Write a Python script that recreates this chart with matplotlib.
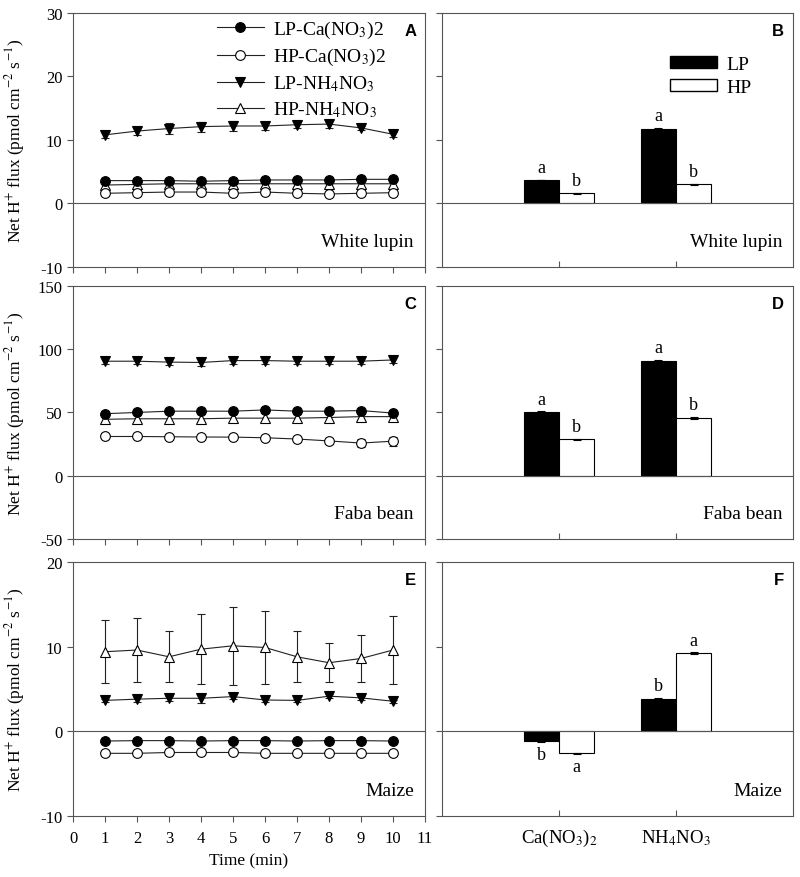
import numpy as np
import matplotlib
matplotlib.use("Agg")
import matplotlib.pyplot as plt
from matplotlib.patches import Patch
from matplotlib.lines import Line2D

plt.rcParams["font.family"] = ["Liberation Serif", "DejaVu Serif"]
plt.rcParams["mathtext.fontset"] = "stix"
plt.rcParams["axes.unicode_minus"] = False

# ---- data ----
time = [1, 2, 3, 4, 5, 6, 7, 8, 9, 10]

# White lupin
wl_lp_ca = [3.6, 3.6, 3.6, 3.5, 3.6, 3.7, 3.7, 3.7, 3.8, 3.8]
wl_hp_ca = [1.6, 1.7, 1.8, 1.8, 1.6, 1.8, 1.6, 1.5, 1.6, 1.7]
wl_lp_nh = [10.8, 11.4, 11.8, 12.1, 12.2, 12.2, 12.4, 12.5, 11.9, 10.9]
wl_hp_nh = [2.9, 3.0, 3.1, 3.1, 3.1, 3.1, 3.1, 3.1, 3.1, 3.1]
wl_lp_nh_err = [0.5, 0.6, 0.9, 0.8, 0.8, 0.7, 0.5, 0.6, 0.3, 0.4]

# Faba bean
fb_lp_ca = [49, 50, 51, 51, 51, 52, 51, 51, 51.5, 49.5]
fb_hp_ca = [31, 31, 30.8, 30.6, 30.5, 30, 29, 27.5, 25.8, 27.3]
fb_lp_nh = [90.5, 90.5, 89.8, 89.5, 91, 91, 90.5, 90.5, 90.5, 91.5]
fb_hp_nh = [44.6, 45, 45, 45, 45.5, 45.5, 45.5, 46, 46.7, 46.7]
fb_hp_ca_err = [1, 1, 1, 1, 1, 1, 1.5, 2.5, 3, 3.5]
fb_lp_nh_err = [2.5, 2.5, 2.5, 2.5, 2.5, 2.5, 2.5, 2.5, 2.5, 2.5]

# Maize
mz_lp_ca = [-1.15, -1.1, -1.1, -1.15, -1.1, -1.1, -1.15, -1.1, -1.1, -1.15]
mz_hp_ca = [-2.6, -2.6, -2.5, -2.5, -2.5, -2.6, -2.6, -2.6, -2.6, -2.6]
mz_lp_nh = [3.65, 3.8, 3.9, 3.9, 4.1, 3.7, 3.65, 4.15, 3.95, 3.55]
mz_hp_nh = [9.4, 9.6, 8.8, 9.7, 10.1, 9.9, 8.8, 8.1, 8.6, 9.6]
mz_lp_nh_err = [0.2, 0.3, 0.3, 0.5, 0.3, 0.2, 0.2, 0.2, 0.2, 0.2]
mz_hp_nh_err = [3.7, 3.8, 3.0, 4.1, 4.6, 4.3, 3.0, 2.3, 2.8, 4.0]

species = ["White lupin", "Faba bean", "Maize"]
ylims = [(-10, 30), (-50, 150), (-10, 20)]
yticks = [[-10, 0, 10, 20, 30], [-50, 0, 50, 100, 150], [-10, 0, 10, 20]]

# bar means (Ca(NO3)2, NH4NO3)
bar_lp = [[3.7, 11.8], [50.5, 91.0], [-1.2, 3.85]]
bar_hp = [[1.6, 3.0], [29.0, 45.5], [-2.6, 9.2]]
bar_lp_err = [[0.05, 0.1], [0.4, 0.4], [0.05, 0.08]]
bar_hp_err = [[0.05, 0.1], [0.4, 0.8], [0.05, 0.12]]
let_lp = [["a", "a"], ["a", "a"], ["b", "b"]]
let_hp = [["b", "b"], ["b", "b"], ["a", "a"]]
bar_cats = ["Ca(NO$_3$)$_2$", "NH$_4$NO$_3$"]

lines = [
    (wl_lp_ca, wl_hp_ca, wl_lp_nh, wl_hp_nh,
     None, None, wl_lp_nh_err, None),
    (fb_lp_ca, fb_hp_ca, fb_lp_nh, fb_hp_nh,
     None, fb_hp_ca_err, fb_lp_nh_err, None),
    (mz_lp_ca, mz_hp_ca, mz_lp_nh, mz_hp_nh,
     None, None, mz_lp_nh_err, mz_hp_nh_err),
]

# ---- figure ----
fig = plt.figure(figsize=(8.0, 8.78), dpi=100, facecolor="white")
rows = [(0.6948, 0.2893), (0.385, 0.2882), (0.0695, 0.2893)]
spine_c = "#555555"
letters = ["A", "B", "C", "D", "E", "F"]
ylab = "Net H$^{+}$ flux (pmol cm$^{-2}$ s$^{-1}$)"

for r in range(3):
    bot, h = rows[r]
    axl = fig.add_axes([0.09125, bot, 0.44, h])
    axr = fig.add_axes([0.5525, bot, 0.43875, h])
    lp_ca, hp_ca, lp_nh, hp_nh, e1, e2, e3, e4 = lines[r]

    style = dict(color="#222222", lw=0.8, capsize=3, elinewidth=0.8,
                 capthick=0.8, ms=7, mec="black", mew=0.8)
    axl.errorbar(time, hp_nh, yerr=e4, fmt="-^", mfc="white", zorder=3, **style)
    axl.errorbar(time, lp_ca, yerr=e1, fmt="-o", mfc="black", zorder=4, **style)
    axl.errorbar(time, hp_ca, yerr=e2, fmt="-o", mfc="white", zorder=3, **style)
    axl.errorbar(time, lp_nh, yerr=e3, fmt="-v", mfc="black", zorder=4, **style)

    span = ylims[r][1] - ylims[r][0]
    axl.set_xlim(0, 11)
    axl.set_ylim(*ylims[r])
    axl.set_yticks(yticks[r])
    axl.set_xticks(range(0, 12))
    axl.axhline(0, color=spine_c, lw=0.8, zorder=1)
    axl.text(10.65, ylims[r][0] + 0.1 * span,
             species[r], ha="right", va="center", fontsize=14)
    axl.text(0.975, 0.96, letters[2 * r], transform=axl.transAxes,
             ha="right", va="top", fontsize=12, fontweight="bold",
             family="Liberation Sans")
    axl.set_ylabel(ylab, fontsize=12.5)
    axl.yaxis.set_label_coords(-0.13, 0.5)
    if r == 2:
        axl.set_xlabel("Time (min)", fontsize=12.5, labelpad=5)
    else:
        axl.set_xticklabels([])

    # bars
    x = np.arange(1, 3)
    w = 0.3
    axr.bar(x - w / 2, bar_lp[r], w, color="black", edgecolor="black",
            lw=0.8, yerr=bar_lp_err[r], capsize=3,
            error_kw=dict(lw=0.8, capthick=0.8))
    axr.bar(x + w / 2, bar_hp[r], w, color="white", edgecolor="black",
            lw=0.8, yerr=bar_hp_err[r], capsize=3,
            error_kw=dict(lw=0.8, capthick=0.8))
    off = 0.015 * span
    for i in range(2):
        for xx, val, err, let in [(x[i] - w / 2, bar_lp[r][i], bar_lp_err[r][i], let_lp[r][i]),
                                  (x[i] + w / 2, bar_hp[r][i], bar_hp_err[r][i], let_hp[r][i])]:
            if val >= 0:
                axr.text(xx, val + err + off, let, ha="center", va="bottom", fontsize=13)
            else:
                axr.text(xx, val - err - off, let, ha="center", va="top", fontsize=13)
    axr.set_xlim(0, 3)
    axr.set_ylim(*ylims[r])
    axr.set_yticks(yticks[r])
    axr.set_yticklabels([])
    axr.set_xticks([1, 2])
    axr.axhline(0, color=spine_c, lw=0.8, zorder=1)
    axr.text(2.91, ylims[r][0] + 0.1 * span, species[r],
             ha="right", va="center", fontsize=14)
    axr.text(0.975, 0.96, letters[2 * r + 1], transform=axr.transAxes,
             ha="right", va="top", fontsize=12, fontweight="bold",
             family="Liberation Sans")
    if r == 2:
        axr.set_xticklabels(bar_cats, fontsize=13.5)
    else:
        axr.set_xticklabels([])
    axr.tick_params(axis="x", direction="in", length=4, width=0.8,
                    color=spine_c, pad=8)
    axr.tick_params(axis="y", direction="out", length=4, width=0.8, color=spine_c)

    axl.tick_params(direction="out", length=4, width=0.8, color=spine_c,
                    labelsize=12)
    axl.tick_params(axis="x", pad=6)
    for ax in (axl, axr):
        for s in ax.spines.values():
            s.set_color(spine_c)
            s.set_linewidth(0.8)

    if r == 0:
        mk = dict(color="#222222", lw=0.8, ms=7, mec="black", mew=0.8)
        handles = [
            Line2D([], [], marker="o", mfc="black", **mk),
            Line2D([], [], marker="o", mfc="white", **mk),
            Line2D([], [], marker="v", mfc="black", **mk),
            Line2D([], [], marker="^", mfc="white", **mk),
        ]
        labels = ["LP-Ca(NO$_3$)2", "HP-Ca(NO$_3$)2",
                  "LP-NH$_4$NO$_3$", "HP-NH$_4$NO$_3$"]
        axl.legend(handles, labels, loc="upper left",
                   bbox_to_anchor=(0.37, 1.03),
                   frameon=False, fontsize=14, handlelength=2.4,
                   borderpad=0.2, labelspacing=0.32, handletextpad=0.5)
        axr.legend(handles=[Patch(fc="black", ec="black", label="LP"),
                            Patch(fc="white", ec="black", label="HP")],
                   loc="upper left", bbox_to_anchor=(0.6, 0.9),
                   frameon=False, fontsize=14, handlelength=2.4,
                   handleheight=0.6, labelspacing=0.3, handletextpad=0.5)

fig.savefig("out.png", dpi=100, facecolor="white")
